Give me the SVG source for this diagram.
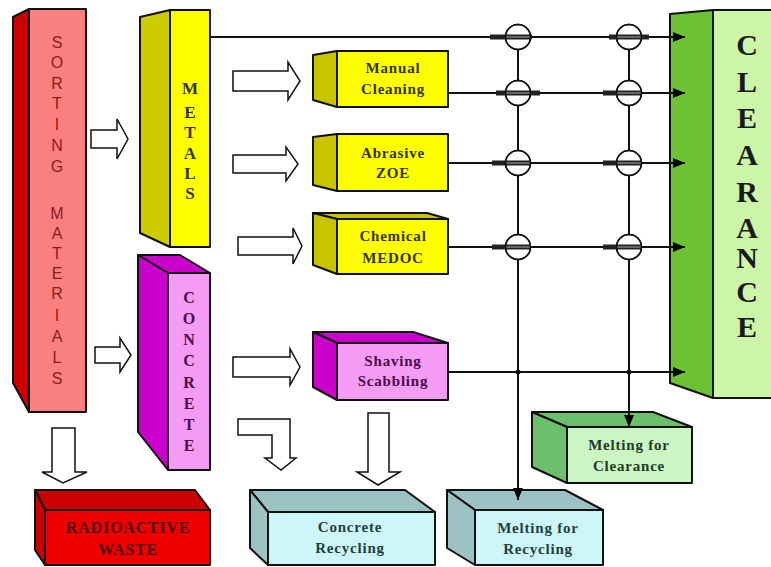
<svg xmlns="http://www.w3.org/2000/svg" width="771" height="567" viewBox="0 0 771 567">
<defs>
<marker id="ah" markerWidth="13" markerHeight="10" refX="12" refY="5" orient="auto" markerUnits="userSpaceOnUse">
<path d="M0,0 L12,5 L0,10 Z" fill="#000"/>
</marker>
<style>
.bx{stroke:#111;stroke-width:2;stroke-linejoin:round}
.ha{fill:#fff;stroke:#111;stroke-width:1.5;stroke-linejoin:miter}
.ln{stroke:#111;stroke-width:2;fill:none}
.sv{font-family:"Liberation Serif","Times New Roman",serif;font-weight:bold;text-anchor:middle}
.ss{font-family:"Liberation Sans",Arial,sans-serif;text-anchor:middle}
.lab{font-size:15px;letter-spacing:0.8px}
.bar{stroke:#222;stroke-width:5}
.bar2{stroke:#aaa;stroke-width:1}
.vc{fill:#fff;stroke:#111;stroke-width:1.5}
</style>
</defs>
<rect width="771" height="567" fill="#fff"/>

<g id="sorting">
<polygon class="bx" points="13,17 29,9 29,412 13,383" fill="#cc0000"/>
<rect class="bx" x="29" y="9" width="57" height="403" fill="#fa8080"/>
<g class="ss" font-size="16" fill="#8a1c1c">
<text x="57" y="48">S</text><text x="57" y="68">O</text><text x="57" y="89">R</text><text x="57" y="109">T</text><text x="57" y="130">I</text><text x="57" y="151">N</text><text x="57" y="172">G</text>
<text x="57" y="219">M</text><text x="57" y="239">A</text><text x="57" y="259">T</text><text x="57" y="279">E</text><text x="57" y="299">R</text><text x="57" y="321">I</text><text x="57" y="342">A</text><text x="57" y="363">L</text><text x="57" y="384">S</text>
</g>
</g>

<g id="metals">
<polygon class="bx" points="140,17 170,10 170,247 140,233" fill="#cccc00"/>
<rect class="bx" x="170" y="10" width="40" height="237" fill="#ffff00"/>
<g class="sv" font-size="17" fill="#333300">
<text x="190" y="94">M</text><text x="190" y="118">E</text><text x="190" y="138">T</text><text x="190" y="159">A</text><text x="190" y="179">L</text><text x="190" y="199">S</text>
</g>
</g>

<g id="concrete">
<polygon class="bx" points="138,255 180,255 210,273 168,273" fill="#cc00cc"/>
<polygon class="bx" points="138,255 168,273 168,470 138,432" fill="#cc00cc"/>
<rect class="bx" x="168" y="273" width="42" height="197" fill="#f49cf4"/>
<g class="sv" font-size="16" fill="#4a0a4a">
<text x="189" y="303">C</text><text x="189" y="324">O</text><text x="189" y="345">N</text><text x="189" y="366">C</text><text x="189" y="388">R</text><text x="189" y="409">E</text><text x="189" y="430">T</text><text x="189" y="451">E</text>
</g>
</g>

<g id="manual">
<polygon class="bx" points="313,55 337,51 337,107 313,100" fill="#c8c400"/>
<rect class="bx" x="337" y="51" width="111" height="56" fill="#ffff00"/>
<text class="sv lab" x="393" y="73" fill="#333300">Manual</text>
<text class="sv lab" x="393" y="94" fill="#333300">Cleaning</text>
</g>

<g id="abrasive">
<polygon class="bx" points="313,137 337,134 337,191 313,185" fill="#c8c400"/>
<rect class="bx" x="337" y="134" width="111" height="57" fill="#ffff00"/>
<text class="sv lab" x="393" y="158" fill="#333300">Abrasive</text>
<text class="sv lab" x="393" y="178" fill="#333300">ZOE</text>
</g>

<g id="chemical">
<polygon class="bx" points="313,213 427,213 448,219 337,219" fill="#c8c400"/>
<polygon class="bx" points="313,213 337,219 337,274 313,265" fill="#c8c400"/>
<rect class="bx" x="337" y="219" width="111" height="55" fill="#ffff00"/>
<text class="sv lab" x="393" y="241" fill="#333300">Chemical</text>
<text class="sv lab" x="393" y="263" fill="#333300">MEDOC</text>
</g>

<g id="shaving">
<polygon class="bx" points="313,332 413,332 448,343 337,343" fill="#cc00cc"/>
<polygon class="bx" points="313,332 337,343 337,400 313,387" fill="#cc00cc"/>
<rect class="bx" x="337" y="343" width="111" height="57" fill="#f49cf4"/>
<text class="sv lab" x="393" y="366" fill="#4a0a4a">Shaving</text>
<text class="sv lab" x="393" y="386" fill="#4a0a4a">Scabbling</text>
</g>

<g id="clearance">
<polygon class="bx" points="670,14 713,10 713,398 670,383" fill="#6cc232"/>
<rect class="bx" x="713" y="10" width="70" height="388" fill="#ccf5a8"/>
<g class="sv" font-size="30" fill="#1a1a1a">
<text x="747" y="55">C</text><text x="747" y="92">L</text><text x="747" y="128">E</text><text x="747" y="165">A</text><text x="747" y="202">R</text><text x="747" y="238">A</text><text x="747" y="268">N</text><text x="747" y="302">C</text><text x="747" y="337">E</text>
</g>
</g>

<g id="radioactive">
<polygon class="bx" points="35,490 195,490 210,510 45,510" fill="#cc0000"/>
<polygon class="bx" points="35,490 45,510 45,565 35,550" fill="#cc0000"/>
<rect class="bx" x="45" y="510" width="165" height="55" fill="#ee0000"/>
<text class="sv" x="128" y="533" font-size="16" letter-spacing="0.8" fill="#4a0000">RADIOACTIVE</text>
<text class="sv" x="128" y="555" font-size="16" letter-spacing="0.8" fill="#4a0000">WASTE</text>
</g>

<g id="concreteRecycling">
<polygon class="bx" points="250,490 405,490 435,512 268,512" fill="#9cc2c4"/>
<polygon class="bx" points="250,490 268,512 268,565 250,548" fill="#9cc2c4"/>
<rect class="bx" x="268" y="512" width="167" height="53" fill="#ccf6f8"/>
<text class="sv lab" x="350" y="532" fill="#1f3f3f">Concrete</text>
<text class="sv lab" x="350" y="553" fill="#1f3f3f">Recycling</text>
</g>

<g id="meltingRecycling">
<polygon class="bx" points="447,490 565,490 603,510 475,510" fill="#9cc2c4"/>
<polygon class="bx" points="447,490 475,510 475,565 447,548" fill="#9cc2c4"/>
<rect class="bx" x="475" y="510" width="128" height="55" fill="#ccf6f8"/>
<text class="sv lab" x="538" y="533" fill="#1f3f3f">Melting for</text>
<text class="sv lab" x="538" y="554" fill="#1f3f3f">Recycling</text>
</g>

<g id="meltingClearance">
<polygon class="bx" points="532,412 653,412 692,427 567,427" fill="#6cbf6c"/>
<polygon class="bx" points="532,412 567,427 567,483 532,467" fill="#6cbf6c"/>
<rect class="bx" x="567" y="427" width="125" height="56" fill="#ccf5c4"/>
<text class="sv lab" x="629" y="450" fill="#1f3a1f">Melting for</text>
<text class="sv lab" x="629" y="471" fill="#1f3a1f">Clearance</text>
</g>

<g id="blockArrows">
<path class="ha" d="M91,130 H117 V119 L128,139 L117,159 V148 H91 Z"/>
<path class="ha" d="M95,347 H120 V338 L131,355 L120,372 V363 H95 Z"/>
<path class="ha" d="M233,71 H288 V62 L300,81 L288,100 V91 H233 Z"/>
<path class="ha" d="M233,155 H286 V147 L298,164 L286,181 V173 H233 Z"/>
<path class="ha" d="M238,237 H293 V228 L302,246 L293,264 V255 H238 Z"/>
<path class="ha" d="M233,357 H290 V349 L300,367 L290,385 V377 H233 Z"/>
<path class="ha" d="M52,428 H75 V472 H87 L63,483 L42,472 H52 Z"/>
<path class="ha" d="M238,419 H290 V458 H296 L281,470 L265,458 H272 V435 H238 Z"/>
<path class="ha" d="M368,413 H389 V472 H400 L378,485 L357,472 H368 Z"/>
</g>

<g id="connectors">
<line class="ln" x1="210" y1="37" x2="685" y2="37" marker-end="url(#ah)"/>
<line class="ln" x1="448" y1="93" x2="685" y2="93" marker-end="url(#ah)"/>
<line class="ln" x1="448" y1="163" x2="685" y2="163" marker-end="url(#ah)"/>
<line class="ln" x1="448" y1="247" x2="685" y2="247" marker-end="url(#ah)"/>
<line class="ln" x1="448" y1="372" x2="685" y2="372" marker-end="url(#ah)"/>
<line class="ln" x1="518" y1="37" x2="518" y2="500" marker-end="url(#ah)"/>
<line class="ln" x1="629" y1="37" x2="629" y2="427" marker-end="url(#ah)"/>
<circle cx="518" cy="372" r="2.5" fill="#111"/>
<circle cx="629" cy="372" r="2.5" fill="#111"/>
<g id="valves">
<g transform="translate(518,37)"><circle class="vc" r="12.5"/><line class="bar" x1="-28" y1="0" x2="14" y2="0"/><line class="bar2" x1="-12" y1="0" x2="12" y2="0"/><circle r="12.5" fill="none" stroke="#111" stroke-width="1.5"/></g>
<g transform="translate(629,37)"><circle class="vc" r="12.5"/><line class="bar" x1="-20" y1="0" x2="20" y2="0"/><line class="bar2" x1="-12" y1="0" x2="12" y2="0"/><circle r="12.5" fill="none" stroke="#111" stroke-width="1.5"/></g>
<g transform="translate(518,93)"><circle class="vc" r="12.5"/><line class="bar" x1="-22" y1="0" x2="22" y2="0"/><line class="bar2" x1="-12" y1="0" x2="12" y2="0"/><circle r="12.5" fill="none" stroke="#111" stroke-width="1.5"/></g>
<g transform="translate(629,93)"><circle class="vc" r="12.5"/><line class="bar" x1="-26" y1="0" x2="12" y2="0"/><line class="bar2" x1="-12" y1="0" x2="12" y2="0"/><circle r="12.5" fill="none" stroke="#111" stroke-width="1.5"/></g>
<g transform="translate(518,163)"><circle class="vc" r="12.5"/><line class="bar" x1="-26" y1="0" x2="12" y2="0"/><line class="bar2" x1="-12" y1="0" x2="12" y2="0"/><circle r="12.5" fill="none" stroke="#111" stroke-width="1.5"/></g>
<g transform="translate(629,163)"><circle class="vc" r="12.5"/><line class="bar" x1="-26" y1="0" x2="12" y2="0"/><line class="bar2" x1="-12" y1="0" x2="12" y2="0"/><circle r="12.5" fill="none" stroke="#111" stroke-width="1.5"/></g>
<g transform="translate(518,247)"><circle class="vc" r="12.5"/><line class="bar" x1="-26" y1="0" x2="12" y2="0"/><line class="bar2" x1="-12" y1="0" x2="12" y2="0"/><circle r="12.5" fill="none" stroke="#111" stroke-width="1.5"/></g>
<g transform="translate(629,247)"><circle class="vc" r="12.5"/><line class="bar" x1="-26" y1="0" x2="12" y2="0"/><line class="bar2" x1="-12" y1="0" x2="12" y2="0"/><circle r="12.5" fill="none" stroke="#111" stroke-width="1.5"/></g>
</g>
</g>
</svg>
